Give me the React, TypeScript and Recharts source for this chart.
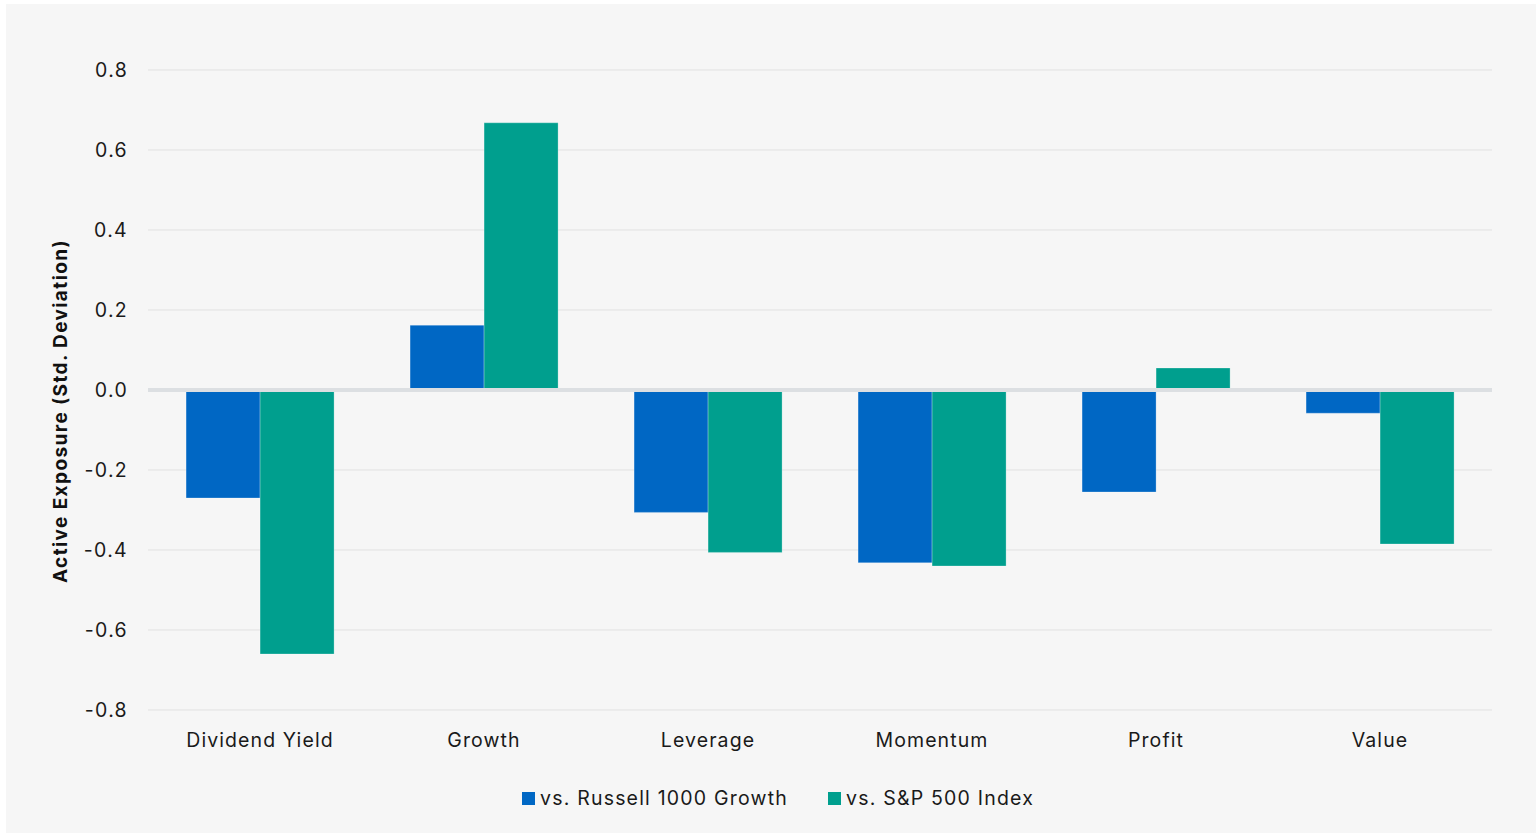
import React from "react";
import {
  BarChart,
  Bar,
  XAxis,
  YAxis,
  CartesianGrid,
  Legend,
  ReferenceLine,
} from "recharts";

const factors = ["Dividend Yield", "Growth", "Leverage", "Momentum", "Profit", "Value"];
const vsRussell = [-0.27, 0.162, -0.306, -0.432, -0.255, -0.058];
const vsSP500 = [-0.66, 0.668, -0.406, -0.44, 0.055, -0.385];
const yTicks = [-0.8, -0.6, -0.4, -0.2, 0, 0.2, 0.4, 0.6, 0.8];

const seriesNames = ["vs. Russell 1000 Growth", "vs. S&P 500 Index"];
const BLUE = "#0067c4";
const GREEN = "#009f8e";
const FONT = "Inter, 'Noto Sans', sans-serif";

const chartData = factors.map((name, i) => ({
  name,
  russell: vsRussell[i],
  sp500: vsSP500[i],
}));

function AxisTitle(props: any) {
  const vb = props.viewBox ?? {};
  const x = (vb.x ?? 0) + 54;
  const y = (vb.y ?? 0) + (vb.height ?? 0) / 2 + 21;
  return (
    <text
      x={x}
      y={y}
      transform={`rotate(-90, ${x}, ${y})`}
      textAnchor="middle"
      dominantBaseline="central"
      fontFamily={FONT}
      fontSize={19}
      fontWeight={700}
      fill="#111"
      style={{ letterSpacing: 1.4 }}
    >
      Active Exposure (Std. Deviation)
    </text>
  );
}

function LegendRow() {
  const items = [
    { label: seriesNames[0], color: BLUE },
    { label: seriesNames[1], color: GREEN },
  ];
  return (
    <div
      style={{
        height: 40,
        display: "flex",
        alignItems: "center",
        justifyContent: "center",
        gap: 40,
        paddingLeft: 58,
        boxSizing: "border-box",
        fontFamily: FONT,
        fontSize: 19.5,
        letterSpacing: 1.2,
        color: "#1a1a1a",
      }}
    >
      {items.map((it) => (
        <div key={it.label} style={{ display: "flex", alignItems: "center" }}>
          <span
            style={{ width: 13, height: 13, background: it.color, marginRight: 5, display: "inline-block" }}
          />
          <span>{it.label}</span>
        </div>
      ))}
    </div>
  );
}

export default function App() {
  return (
    <div
      style={{
        position: "absolute",
        left: 6,
        top: 4,
        width: 1530,
        height: 829,
        background: "#f6f6f6",
      }}
    >
      <BarChart
        width={1530}
        height={829}
        data={chartData}
        margin={{ top: 66, right: 44, left: 0, bottom: 15 }}
        barCategoryGap="17%"
        barGap={0}
      >
        <CartesianGrid vertical={false} stroke="#e1e1e1" strokeWidth={1} />
        <XAxis
          dataKey="name"
          axisLine={false}
          tickLine={false}
          height={68}
          tickMargin={17}
          tick={{ fill: "#1a1a1a", fontSize: 19.5, fontFamily: FONT, style: { letterSpacing: 1.1 } }}
        />
        <YAxis
          domain={[-0.8, 0.8]}
          ticks={yTicks}
          interval={0}
          width={142}
          axisLine={false}
          tickLine={false}
          tickMargin={14}
          tickFormatter={(v: number) => v.toFixed(1)}
          tick={{ fill: "#1a1a1a", fontSize: 19.5, fontFamily: FONT, style: { letterSpacing: 1.3 } }}
          label={<AxisTitle />}
        />
        <Legend verticalAlign="bottom" content={<LegendRow />} />
        <Bar
          dataKey="russell"
          name={seriesNames[0]}
          fill={BLUE}
          stroke="#ffffff"
          strokeOpacity={0.25}
          isAnimationActive={false}
        />
        <Bar
          dataKey="sp500"
          name={seriesNames[1]}
          fill={GREEN}
          stroke="#ffffff"
          strokeOpacity={0.25}
          isAnimationActive={false}
        />
        <ReferenceLine y={0} stroke="#dcdfe2" strokeWidth={4} />
      </BarChart>
    </div>
  );
}
